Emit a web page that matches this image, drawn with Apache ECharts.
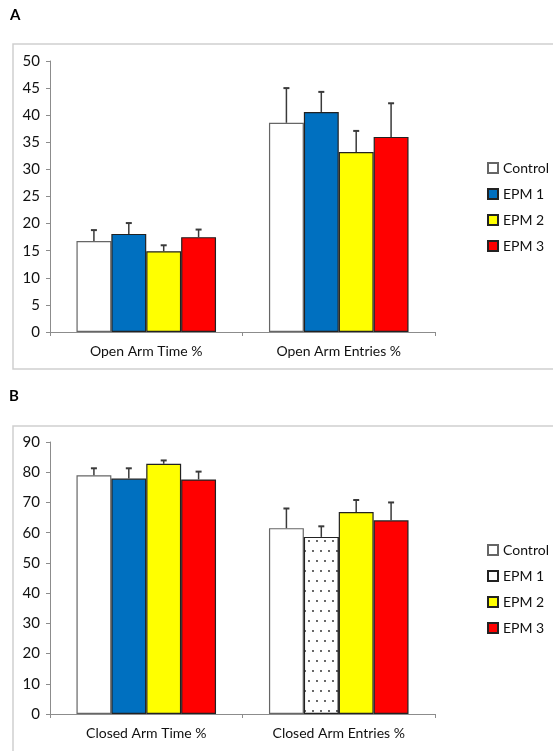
<!DOCTYPE html>
<html>
<head>
<meta charset="utf-8">
<script src="https://cdn.jsdelivr.net/npm/echarts@6/dist/echarts.min.js"></script>
<style>
  html, body { margin: 0; padding: 0; background: #fff; }
  #chart { width: 553px; height: 751px; }
</style>
</head>
<body>
<div id="chart"></div>
<script>
// panel A
var categoriesA = ["Open Arm Time %", "Open Arm Entries %"];
var controlA = [16.8, 38.6];
var epm1A = [18.1, 40.6];
var epm2A = [14.9, 33.2];
var epm3A = [17.5, 36.0];
var errControlA = [2.0, 6.4];
var errEpm1A = [2.0, 3.7];
var errEpm2A = [1.1, 3.9];
var errEpm3A = [1.4, 6.2];
var ticksA = { min: 0, max: 50, interval: 5 };

// panel B
var categoriesB = ["Closed Arm Time %", "Closed Arm Entries %"];
var controlB = [79.0, 61.5];
var epm1B = [77.9, 58.6];
var epm2B = [82.8, 66.8];
var epm3B = [77.6, 64.1];
var errControlB = [2.3, 6.5];
var errEpm1B = [3.4, 3.5];
var errEpm2B = [1.1, 4.0];
var errEpm3B = [2.6, 5.9];
var ticksB = { min: 0, max: 90, interval: 10 };

var groupNames = ["Control", "EPM 1", "EPM 2", "EPM 3"];

var font = "Lato";
var CAT_GAP = 0.275; // share of band left empty

var fills = ["#ffffff", "#0070c0", "#ffff00", "#ff0000"];
var borders = ["#666666", "#222222", "#222222", "#222222"];

var dots = {
  symbol: "circle",
  symbolSize: 0.9,
  color: "#222",
  backgroundColor: "#ffffff",
  dashArrayX: [[2, 6], [0, 4, 2, 2]],
  dashArrayY: [2, 8]
};

function barSeries(name, values, k, gridIdx, special) {
  return {
    name: name,
    type: "bar",
    xAxisIndex: gridIdx,
    yAxisIndex: gridIdx,
    barGap: "0%",
    barCategoryGap: (CAT_GAP * 100) + "%",
    itemStyle: { color: fills[k], borderColor: borders[k], borderWidth: 1.2 },
    data: values.map(function (v, i) {
      if (special && special[i]) return { value: v, itemStyle: special[i] };
      return v;
    }),
    z: 2
  };
}

function errSeries(values, errs, k, gridIdx) {
  return {
    type: "custom",
    xAxisIndex: gridIdx,
    yAxisIndex: gridIdx,
    silent: true,
    z: 3,
    data: values.map(function (v, i) { return [i, v, v + errs[i]]; }),
    encode: { x: 0, y: [1, 2] },
    renderItem: function (params, api) {
      var band = api.size([1, 0])[0];
      var barW = band * (1 - CAT_GAP) / 4;
      var base = api.coord([api.value(0), api.value(1)]);
      var top = api.coord([api.value(0), api.value(2)]);
      var x = base[0] + (k - 1.5) * barW;
      return {
        type: "group",
        children: [
          { type: "line", shape: { x1: x, y1: base[1], x2: x, y2: top[1] },
            style: { stroke: "#3a3a3a", lineWidth: 1.5 } },
          { type: "line", shape: { x1: x - 3, y1: top[1], x2: x + 3, y2: top[1] },
            style: { stroke: "#3a3a3a", lineWidth: 2 } }
        ]
      };
    }
  };
}

function yAxis(gridIdx, t) {
  return {
    type: "value",
    gridIndex: gridIdx,
    min: t.min, max: t.max, interval: t.interval,
    axisLine: { show: true, lineStyle: { color: "#8c8c8c", width: 1 } },
    axisTick: { show: true, length: 4, lineStyle: { color: "#8c8c8c" } },
    splitLine: { show: false },
    axisLabel: { color: "#111", fontFamily: font, fontSize: 15, margin: 10 }
  };
}

function xAxis(gridIdx, cats) {
  return {
    type: "category",
    gridIndex: gridIdx,
    data: cats,
    axisLine: { show: true, lineStyle: { color: "#8c8c8c", width: 1 } },
    axisTick: { show: true, length: 4, lineStyle: { color: "#8c8c8c" } },
    axisLabel: { color: "#111", fontFamily: font, fontSize: 14, margin: 12 }
  };
}

function legend(top, override) {
  return {
    orient: "vertical",
    left: 482,
    top: top,
    icon: "rect",
    itemWidth: 10,
    itemHeight: 10,
    itemGap: 12,
    textStyle: { color: "#111", fontFamily: font, fontSize: 14 },
    data: groupNames.map(function (n, k) {
      if (override && override[k]) return { name: n, itemStyle: override[k] };
      return n;
    })
  };
}

var myChart = echarts.init(document.getElementById("chart"));

var option = {
  animation: false,
  backgroundColor: "#ffffff",
  graphic: [
    { type: "rect", shape: { x: 13, y: 44, width: 545, height: 325 },
      style: { fill: "none", stroke: "#cfcfcf", lineWidth: 1.5 } },
    { type: "rect", shape: { x: 13, y: 426, width: 545, height: 340 },
      style: { fill: "none", stroke: "#cfcfcf", lineWidth: 1.5 } },
    { type: "text", left: 10, top: 8,
      style: { text: "A", fill: "#000", font: "bold 15px " + font } },
    { type: "text", left: 9, top: 389,
      style: { text: "B", fill: "#000", font: "bold 15px " + font } }
  ],
  grid: [
    { left: 50, right: 118, top: 61, height: 271 },
    { left: 50, right: 118, top: 442, height: 272 }
  ],
  legend: [
    legend(156),
    legend(538, [null, { color: "#ffffff", borderColor: "#222", decal: "none" }, null, null])
  ],
  xAxis: [xAxis(0, categoriesA), xAxis(1, categoriesB)],
  yAxis: [yAxis(0, ticksA), yAxis(1, ticksB)],
  series: [
    barSeries("Control", controlA, 0, 0),
    barSeries("EPM 1", epm1A, 1, 0),
    barSeries("EPM 2", epm2A, 2, 0),
    barSeries("EPM 3", epm3A, 3, 0),
    errSeries(controlA, errControlA, 0, 0),
    errSeries(epm1A, errEpm1A, 1, 0),
    errSeries(epm2A, errEpm2A, 2, 0),
    errSeries(epm3A, errEpm3A, 3, 0),
    barSeries("Control", controlB, 0, 1),
    barSeries("EPM 1", epm1B, 1, 1, [null, { color: "#ffffff", borderColor: "#222", decal: dots }]),
    barSeries("EPM 2", epm2B, 2, 1),
    barSeries("EPM 3", epm3B, 3, 1),
    errSeries(controlB, errControlB, 0, 1),
    errSeries(epm1B, errEpm1B, 1, 1),
    errSeries(epm2B, errEpm2B, 2, 1),
    errSeries(epm3B, errEpm3B, 3, 1)
  ]
};
myChart.setOption(option);
</script>
</body>
</html>
